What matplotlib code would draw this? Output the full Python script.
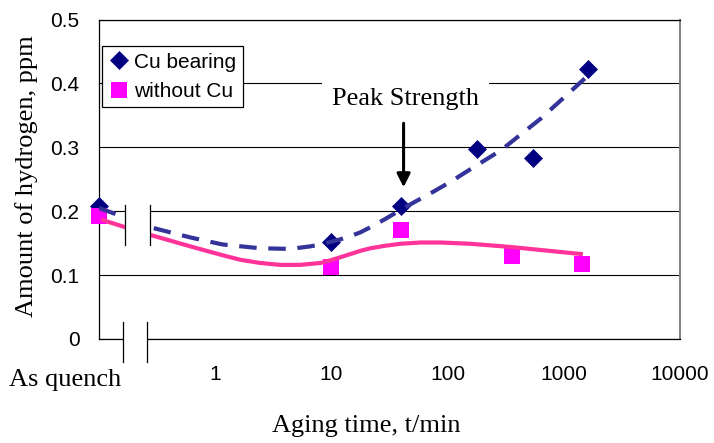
import matplotlib
matplotlib.use('Agg')
import matplotlib.pyplot as plt
from matplotlib.patches import Rectangle

# hydrogen content (ppm) against aging time (min); 0.1 min is the as-quenched state
cu_time = [0.1, 10, 40, 180, 540, 1620]
cu_h = [0.208, 0.152, 0.208, 0.297, 0.283, 0.422]
nocu_time = [0.1, 10, 40, 360, 1440]
nocu_h = [0.193, 0.112, 0.170, 0.130, 0.117]

# smoothed trend curves
cu_trend_time = [0.1, 0.132, 0.275, 0.609, 1.15, 2.44, 4.43, 6.59, 8.04, 9.8,
                 11.96, 14.6, 17.8, 21.7, 29.2, 39.3, 52.7, 71.3, 106, 158,
                 286, 634, 1610]
cu_trend_h = [0.205, 0.197, 0.175, 0.159, 0.148, 0.142, 0.141, 0.145, 0.148, 0.152,
              0.156, 0.161, 0.167, 0.175, 0.188, 0.202, 0.215, 0.228, 0.246, 0.266,
              0.295, 0.345, 0.412]
nocu_trend_time = [0.108, 0.1675, 0.275, 0.609, 1.22, 1.64, 2.44, 3.63, 5.41, 8.04,
                   9.8, 11.96, 14.6, 17.8, 21.7, 29.2, 39.3, 58.5, 87.1, 158,
                   349, 1400]
nocu_trend_h = [0.186, 0.175, 0.163, 0.145, 0.130, 0.124, 0.119, 0.116, 0.116, 0.119,
                0.123, 0.128, 0.133, 0.138, 0.142, 0.146, 0.149, 0.151, 0.151, 0.149,
                0.144, 0.133]

xtick_vals = [1, 10, 100, 1000, 10000]
xtick_labels = ['1', '10', '100', '1000', '10000']
ytick_vals = [0, 0.1, 0.2, 0.3, 0.4, 0.5]
ytick_labels = ['0', '0.1', '0.2', '0.3', '0.4', '0.5']

peak_time = 41.8

plt.rcParams['font.family'] = ['Liberation Sans', 'DejaVu Sans']
SERIF = ['Liberation Serif', 'DejaVu Serif']

fig = plt.figure(figsize=(7.14, 4.43), dpi=100)
ax = fig.add_axes([99 / 714, 1 - 339 / 443, 581 / 714, 319.5 / 443])

ax.set_xscale('log')
ax.set_xlim(0.1, 10000)
ax.set_ylim(0, 0.5)

ax.set_xticks(xtick_vals)
ax.set_xticklabels(xtick_labels)
ax.xaxis.set_minor_locator(matplotlib.ticker.NullLocator())
ax.set_yticks(ytick_vals)
ax.set_yticklabels(ytick_labels)
ax.tick_params(axis='x', length=0, pad=19, labelsize=15)
ax.tick_params(axis='y', length=0, pad=14, labelsize=15)
ax.yaxis.grid(True, color='black', linewidth=0.8)

for side in ['left', 'top', 'bottom']:
    ax.spines[side].set_color('black')
    ax.spines[side].set_linewidth(0.9)
ax.spines['right'].set_color('#808080')
ax.spines['right'].set_linewidth(1.4)

# data points
cu_pts, = ax.plot(cu_time, cu_h, linestyle='none', marker='D', markersize=9,
                  color='#000080', markeredgewidth=0.5, clip_on=False, zorder=3,
                  label='Cu bearing')
nocu_pts, = ax.plot(nocu_time, nocu_h, linestyle='none', marker='s', markersize=12,
                    color='#FF00FF', markeredgewidth=0, clip_on=False, zorder=3.1,
                    label='without Cu')

# trend lines
ax.plot(cu_trend_time, cu_trend_h, color='#333399', linewidth=3,
        dashes=(4.2, 2.8), zorder=4, solid_joinstyle='round')
ax.plot(nocu_trend_time, nocu_trend_h, color='#FF3399', linewidth=3, zorder=4,
        solid_joinstyle='round')

# axis break markers
for x0, x1, y0, y1 in [(0.1675, 0.275, 0.147, 0.209), (0.161, 0.259, -0.036, 0.027)]:
    ax.add_patch(Rectangle((x0, y0), x1 - x0, y1 - y0, facecolor='white',
                           edgecolor='none', clip_on=False, zorder=4.5))
    for xv in (x0, x1):
        ax.plot([xv, xv], [y0, y1], color='black', linewidth=0.9,
                clip_on=False, zorder=4.6)

leg = ax.legend(handles=[cu_pts, nocu_pts], loc='upper left',
                bbox_to_anchor=(3 / 581, (339 - 46) / 320), borderaxespad=0,
                fontsize=15, handlelength=1.0, handletextpad=0.25,
                borderpad=0.3, labelspacing=0.5, fancybox=False,
                framealpha=1, edgecolor='black', numpoints=1)
leg.get_frame().set_linewidth(0.9)
leg.set_zorder(6)

# peak strength marker
ax.text(43.5, 0.3656, 'Peak Strength', family=SERIF, fontsize=19,
        ha='center', va='baseline', zorder=6,
        bbox=dict(facecolor='white', edgecolor='none', pad=7))
ax.annotate('', xy=(peak_time, 0.2375), xytext=(peak_time, 0.3375),
            arrowprops=dict(arrowstyle='-|>', color='black', lw=2.2,
                            mutation_scale=20, shrinkA=0, shrinkB=0),
            zorder=6)

ax.text((65 - 99) / 581, (339 - 386) / 320, 'As quench', family=SERIF,
        fontsize=19, ha='center', va='baseline', transform=ax.transAxes,
        clip_on=False)

fig.text(366 / 714, 1 - 432 / 443, 'Aging time, t/min', family=SERIF,
         fontsize=19, ha='center', va='baseline')
fig.text(27 / 714, 1 - 176 / 443, 'Amount of hydrogen, ppm', family=SERIF,
         fontsize=19, ha='center', va='center', rotation=90)

fig.savefig('out.png', dpi=100)
